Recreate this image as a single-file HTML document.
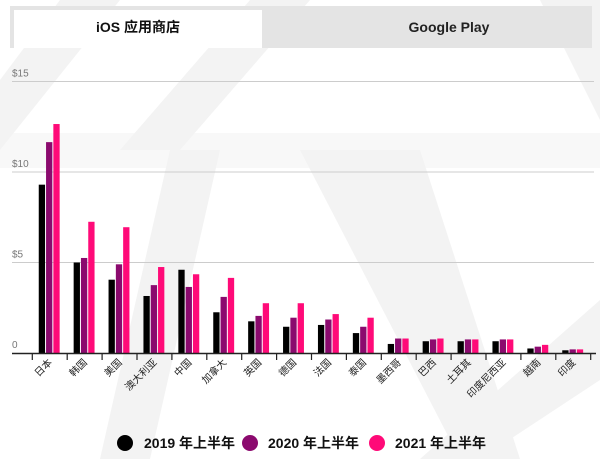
<!DOCTYPE html>
<html><head><meta charset="utf-8"><style>
body{margin:0;width:600px;height:459px;overflow:hidden;background:#fff;font-family:"Liberation Sans","Noto Sans CJK SC",sans-serif}
</style></head><body>
<svg id="c" width="600" height="459" xmlns="http://www.w3.org/2000/svg">
<g fill="#f3f3f3">
<polygon points="60,0 120,0 0,150 0,80"/>
<polygon points="250,0 310,0 180,150 120,150"/>
<polygon points="300,150 420,150 520,459 460,459"/>
<polygon points="170,150 220,150 150,459 100,459"/>
<polygon points="540,0 600,0 600,120"/>
<polygon points="600,300 600,380 480,459 420,459"/>
<rect x="0" y="133" width="600" height="35" opacity="0.6"/>
</g>
<rect x="10" y="6" width="582" height="42" fill="#e4e4e4"/>
<rect x="14" y="10" width="248" height="38" fill="#fff"/>
<text x="138" y="32" text-anchor="middle" font-size="14" font-weight="bold" fill="#111">iOS 应用商店</text>
<text x="449" y="32" text-anchor="middle" font-size="14" font-weight="bold" fill="#222">Google Play</text>
<g id="grid"></g><g id="bars"></g><g id="xaxis"></g>
<g font-size="14" font-weight="bold" fill="#111">
<circle cx="125" cy="443" r="8" fill="#000"/><text x="144" y="448">2019 年上半年</text>
<circle cx="250" cy="443" r="8" fill="#8b0a6e"/><text x="268" y="448">2020 年上半年</text>
<circle cx="377" cy="443" r="8" fill="#ff0a78"/><text x="395" y="448">2021 年上半年</text>
</g>
</svg>
<script>
const categories=["日本","韩国","美国","澳大利亚","中国","加拿大","英国","德国","法国","泰国","墨西哥","巴西","土耳其","印度尼西亚","越南","印度"];
const s2019=[9.3,5.0,4.05,3.15,4.6,2.25,1.75,1.45,1.55,1.1,0.5,0.65,0.65,0.65,0.25,0.15];
const s2020=[11.65,5.25,4.9,3.75,3.65,3.1,2.05,1.95,1.85,1.45,0.8,0.75,0.75,0.75,0.35,0.2];
const s2021=[12.65,7.25,6.95,4.75,4.35,4.15,2.75,2.75,2.15,1.95,0.8,0.8,0.75,0.75,0.45,0.2];
const ticks=[0,5,10,15];
const tickLabels=["0","$5","$10","$15"];
const NS="http://www.w3.org/2000/svg";
const y=v=>353-v*18.1;
const x0=32.3,step=34.9;
const cx=i=>x0+step*(i+0.5);
function mk(t,a,p){const e=document.createElementNS(NS,t);for(const k in a)e.setAttribute(k,a[k]);p.appendChild(e);return e;}
const grid=document.getElementById('grid'),bars=document.getElementById('bars'),xa=document.getElementById('xaxis');
ticks.forEach((t,i)=>{
 if(t>0){const l=mk('line',{x1:12,x2:594,y1:y(t),y2:y(t),stroke:'#ccc','stroke-width':1},grid);
 
 }
 const tx=mk('text',{x:12,y:y(t)-5,'font-size':10,fill:'#777'},grid);tx.textContent=tickLabels[i];
 
 
});
const series=[[s2019,'#000'],[s2020,'#8b0a6e'],[s2021,'#ff0a78']];
categories.forEach((c,i)=>{
 series.forEach(([s,col],j)=>{
  const r=mk('rect',{x:cx(i)-11+j*7.3,y:y(s[i]),width:6.3,height:353-y(s[i]),fill:col},bars);
  
  
 });
 const t=mk('text',{'font-size':10,fill:'#222','text-anchor':'end',transform:`translate(${cx(i)+3},363) rotate(-45)`},xa);
 t.textContent=c;
 
 
});
const ax=mk('line',{x1:12,x2:596,y1:353.5,y2:353.5,stroke:'#222','stroke-width':1.5},xa);


for(let i=0;i<=categories.length;i++){const tk=mk('line',{x1:x0+step*i,x2:x0+step*i,y1:353,y2:360,stroke:'#222','stroke-width':1.2},xa);
 
 }
</script>
</body></html>
